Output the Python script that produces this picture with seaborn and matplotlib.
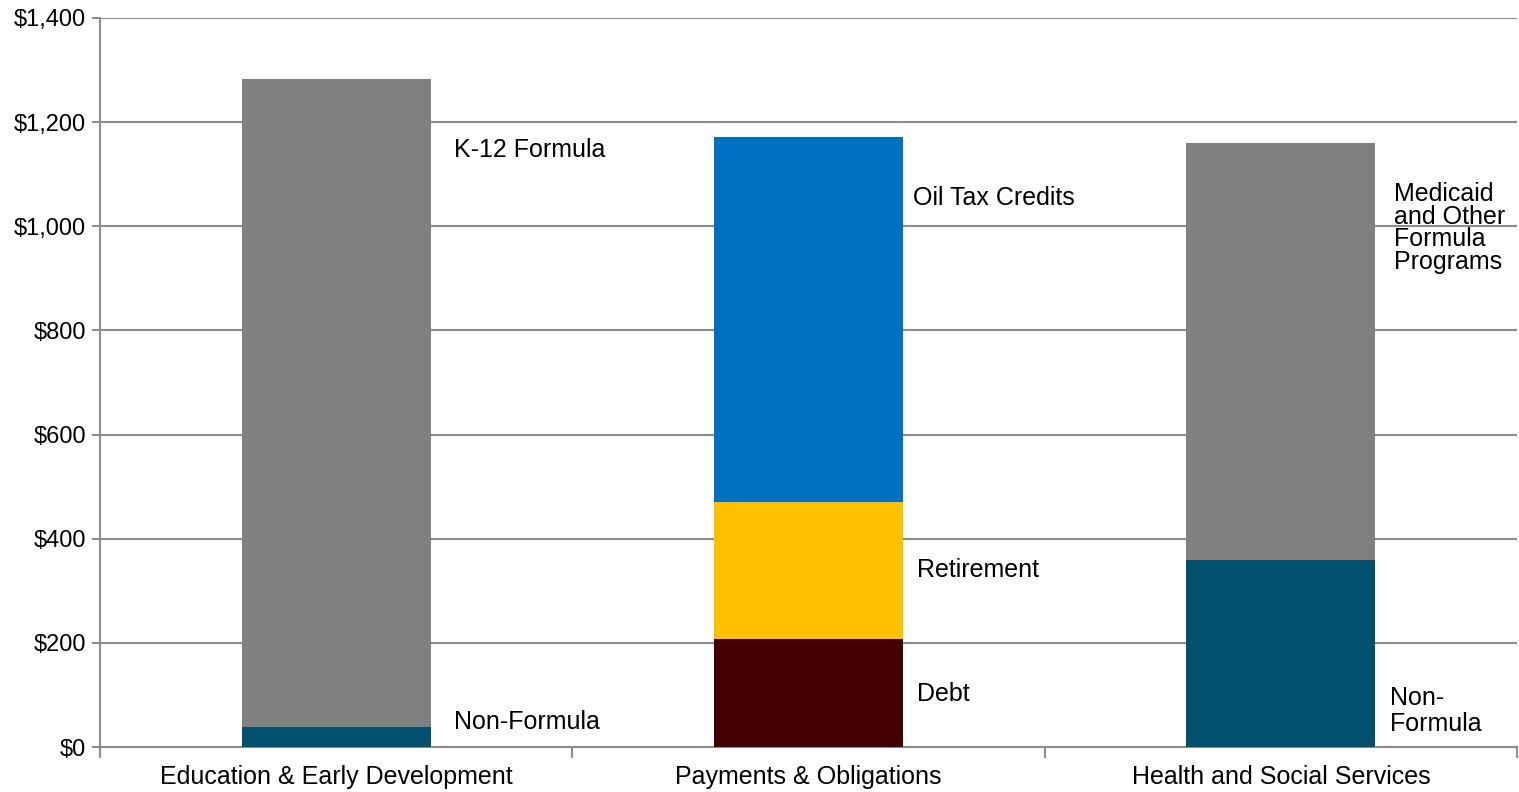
import matplotlib
matplotlib.use("Agg")
import matplotlib.pyplot as plt
import seaborn as sns
import pandas as pd
import numpy as np
from matplotlib.ticker import FuncFormatter, FixedLocator

categories = ["Education & Early Development", "Payments & Obligations", "Health and Social Services"]
# stacked segment values, bottom to top
layer1 = [38, 207, 359]      # Non-Formula / Debt / Non-Formula
layer2 = [1245, 263, 801]    # K-12 Formula / Retirement / Medicaid and Other Formula Programs
layer3 = [0, 701, 0]         # Oil Tax Credits
layer1_colors = ["#00506E", "#430000", "#00506E"]
layer2_colors = ["#808080", "#FFC000", "#808080"]
layer3_colors = ["#0070C0", "#0070C0", "#0070C0"]
yticks = [0, 200, 400, 600, 800, 1000, 1200, 1400]

labels = [
    ("K-12 Formula", 0.25, 1146, 1.0),
    ("Non-Formula", 0.25, 48, 1.0),
    ("Oil Tax Credits", 1.221, 1054, 1.0),
    ("Retirement", 1.23, 340, 1.0),
    ("Debt", 1.23, 102, 1.0),
    ("Medicaid\nand Other\nFormula\nPrograms", 2.24, 997, 0.92),
    ("Non-\nFormula", 2.232, 69, 1.08),
]

sns.set_style("white")
plt.rcParams["font.family"] = ["Liberation Sans", "DejaVu Sans"]

fig = plt.figure(figsize=(15.19, 7.92), dpi=100)
ax = fig.add_axes([0.0658, 0.0568, 0.9329, 0.9205])

grid_color = "#8C8C8C"
for yv in yticks:
    ax.axhline(yv, color=grid_color, lw=1.5, zorder=0)

c1 = np.array(layer1)
c2 = c1 + np.array(layer2)
c3 = c2 + np.array(layer3)
# draw cumulative totals from the top layer down so lower segments overlay
for z, (tops, cols) in enumerate([(c3, layer3_colors), (c2, layer2_colors), (c1, layer1_colors)]):
    df = pd.DataFrame({"cat": categories, "val": tops})
    sns.barplot(data=df, x="cat", y="val", hue="cat", palette=cols, legend=False,
                width=0.4, ax=ax, saturation=1, zorder=2 + z, linewidth=0)

for text, xv, yv, ls in labels:
    ax.text(xv, yv, text, fontsize=18, va="center", ha="left", color="black",
            linespacing=ls, zorder=6)

ax.set_xlim(-0.5, 2.5)
ax.set_ylim(0, 1400)
ax.set_yticks(yticks)
ax.yaxis.set_major_formatter(FuncFormatter(lambda v, p: f"${v:,.0f}"))
ax.set_xlabel("")
ax.set_ylabel("")

for s in ["top", "right"]:
    ax.spines[s].set_visible(False)
for s in ["left", "bottom"]:
    ax.spines[s].set_color(grid_color)
    ax.spines[s].set_linewidth(1.5)
    ax.spines[s].set_zorder(1)

ax.tick_params(axis="y", which="major", length=6, width=1.5, color=grid_color,
               labelsize=17, pad=4, left=True, labelcolor="black")
ax.tick_params(axis="x", which="major", length=0, labelsize=18, pad=13, labelcolor="black")
ax.xaxis.set_minor_locator(FixedLocator([-0.5, 0.5, 1.5, 2.5]))
ax.tick_params(axis="x", which="minor", length=8, width=1.5, color=grid_color, bottom=True)

fig.savefig("out.png", dpi=100)
